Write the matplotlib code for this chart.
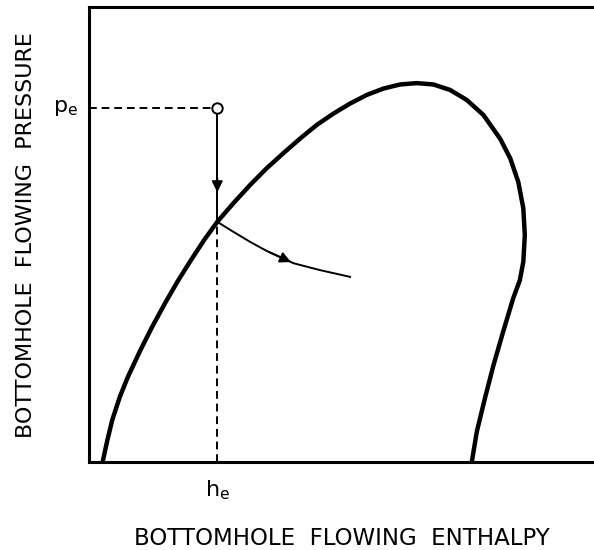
import matplotlib.pyplot as plt

# envelope curve (enthalpy, pressure), arbitrary units
env_h = [0.27, 0.36, 0.46, 0.61, 0.77, 1.01, 1.25, 1.51, 1.76, 2.02, 2.28, 2.54,
         2.86, 3.19, 3.52, 3.85, 4.18, 4.51, 4.84, 5.17, 5.50, 5.83, 6.16, 6.49,
         6.82, 7.15, 7.48, 7.81, 8.14, 8.34, 8.50, 8.60, 8.63, 8.60, 8.53,
         8.40, 8.20, 8.01, 7.84, 7.68, 7.58]
env_p = [0.00, 0.46, 0.92, 1.43, 1.87, 2.44, 2.97, 3.50, 3.98, 4.44, 4.88, 5.28,
         5.69, 6.09, 6.46, 6.79, 7.11, 7.41, 7.66, 7.88, 8.07, 8.21, 8.30, 8.33,
         8.30, 8.18, 7.96, 7.63, 7.11, 6.68, 6.16, 5.58, 4.99, 4.40, 3.99,
         3.60, 2.86, 2.13, 1.40, 0.67, 0.00]

# flow path after hitting the envelope
path_h = [2.54, 2.86, 3.19, 3.52, 4.05, 4.57, 5.17]
path_p = [5.28, 5.06, 4.84, 4.64, 4.37, 4.22, 4.07]

h_e = 2.54
p_e = 7.78
p_hit = 5.28

fig = plt.figure(figsize=(5.94, 5.5), dpi=100)
ax = fig.add_axes([0.1498, 0.16, 0.8502, 0.827])
ax.set_xlim(0, 10)
ax.set_ylim(0, 10)
for s in ['left', 'bottom', 'top']:
    ax.spines[s].set_linewidth(2.2)
ax.spines['right'].set_visible(False)
ax.set_xticks([])
ax.set_yticks([])

ax.plot(env_h, env_p, color='black', lw=3.2, solid_capstyle='butt', solid_joinstyle='round')

# dashed guides
ax.plot([0, h_e - 0.1], [p_e, p_e], color='black', lw=1.4, ls=(0, (4, 2.5)))
ax.plot([h_e, h_e], [0, p_hit], color='black', lw=1.4, ls=(0, (4, 2.5)))

# vertical arrow from the point down to the curve
ax.plot([h_e, h_e], [p_e - 0.1, p_hit], color='black', lw=1.4)
ax.annotate('', xy=(h_e, 5.87), xytext=(h_e, 6.3),
            arrowprops=dict(arrowstyle='-|>', color='black', lw=1.4, mutation_scale=16))
ax.plot([h_e], [p_e], marker='o', ms=7.5, mfc='white', mec='black', mew=1.4)

# path curve with arrowhead
ax.plot(path_h, path_p, color='black', lw=1.4, solid_joinstyle='round')
ax.annotate('', xy=(path_h[4], path_p[4]), xytext=(path_h[3], path_p[3]),
            arrowprops=dict(arrowstyle='-|>', color='black', lw=1.4, mutation_scale=16))

ax.text(-0.22, p_e, r'p$_\mathregular{e}$', fontsize=16, ha='right', va='center')
ax.text(h_e, -0.35, r'h$_\mathregular{e}$', fontsize=16, ha='center', va='top')

ax.set_xlabel('BOTTOMHOLE  FLOWING  ENTHALPY', fontsize=16.5, labelpad=47)
ax.set_ylabel('BOTTOMHOLE  FLOWING  PRESSURE', fontsize=16, labelpad=38)

fig.savefig('out.png', dpi=100)
